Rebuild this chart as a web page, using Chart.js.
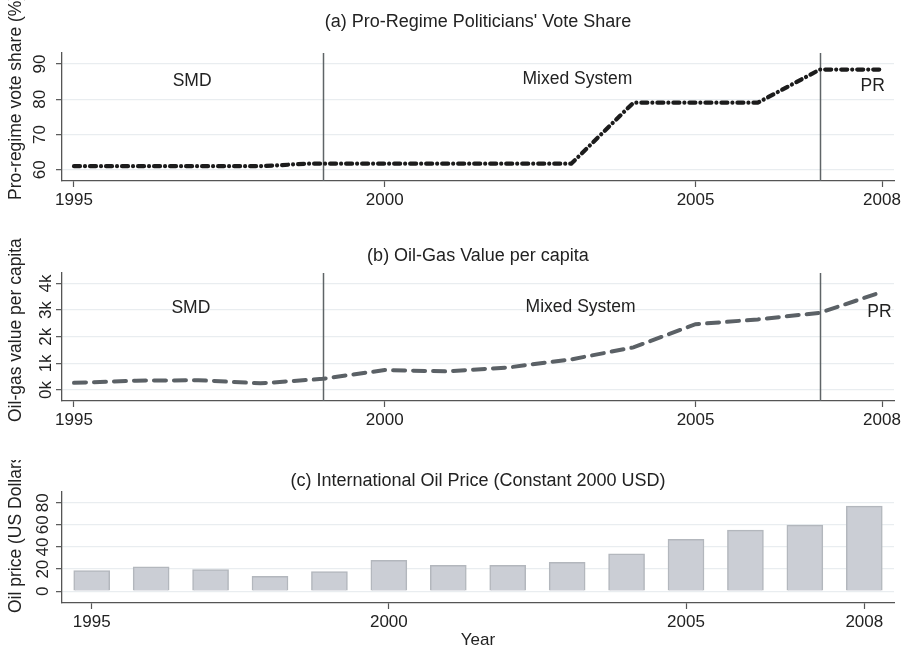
<!DOCTYPE html>
<html lang="en">
<head>
<meta charset="UTF-8">
<title>Vote share, oil-gas value and oil price</title>
<script src="https://cdn.jsdelivr.net/npm/chart.js"></script>
<style>
  body { margin: 0; background: #fff; width: 908px; height: 652px; position: relative; overflow: hidden; }
  .panel { position: absolute; left: 0; width: 908px; }
  #pa { top: 0; height: 215px; }
  #pb { top: 230px; height: 205px; }
  #pc { top: 460px; height: 192px; }
</style>
</head>
<body>
<div class="panel" id="pa"><canvas id="chartA"></canvas></div>
<div class="panel" id="pb"><canvas id="chartB"></canvas></div>
<div class="panel" id="pc"><canvas id="chartC"></canvas></div>
<script>
// data
const years = [1995, 1996, 1997, 1998, 1999, 2000, 2001, 2002, 2003, 2004, 2005, 2006, 2007, 2008];
const xTicks = [1995, 2000, 2005, 2008];
const systemChanges = [1999, 2007];

const voteYears = [1995, 1998, 1998.75, 2003, 2004, 2006, 2007, 2008];
const voteShare = [61.0, 61.0, 61.7, 61.7, 79.0, 79.0, 88.4, 88.4];
const voteTicks = [60, 70, 80, 90];

const oilGasValue = [270, 350, 370, 250, 420, 750, 700, 850, 1150, 1600, 2470, 2650, 2900, 3680];
const oilGasTicks = [0, 1000, 2000, 3000, 4000];

const oilPrice = [18.8, 22.1, 19.7, 13.4, 17.9, 27.9, 23.4, 23.4, 26.1, 33.9, 47.0, 55.2, 59.7, 77.0];
const oilPriceTicks = [0, 20, 40, 60, 80];

const FONT = '"Liberation Sans", Arial, Helvetica, sans-serif';
Chart.defaults.font.family = FONT;
Chart.defaults.color = '#222';

// titles, y titles, system labels and the two reform lines
const decor = {
  id: 'decor',
  beforeDatasetsDraw(chart, args, o) {
    const { ctx, chartArea: a, scales: { x } } = chart;
    ctx.save();
    ctx.strokeStyle = '#5f6467';
    ctx.lineWidth = 1.5;
    (o.lines || []).forEach(v => {
      const px = Math.round(x.getPixelForValue(v)) + 0.5;
      ctx.beginPath();
      ctx.moveTo(px, a.top);
      ctx.lineTo(px, a.bottom);
      ctx.stroke();
    });
    ctx.restore();
  },
  afterDraw(chart, args, o) {
    const { ctx, chartArea: a, scales: { x, y } } = chart;
    ctx.save();
    ctx.fillStyle = '#222';
    ctx.textBaseline = 'middle';
    ctx.textAlign = 'center';
    ctx.font = '18px ' + FONT;
    ctx.fillText(o.title, (a.left + a.right) / 2, o.titleY);

    ctx.font = '17.5px ' + FONT;
    (o.labels || []).forEach(l => {
      ctx.fillText(l.text, x.getPixelForValue(l.x), y.getPixelForValue(l.y));
    });

    ctx.translate(16, o.yTitleBottom);
    ctx.rotate(-Math.PI / 2);
    ctx.textAlign = 'left';
    ctx.font = '17.5px ' + FONT;
    ctx.fillText(o.yTitle, 0, 0);
    ctx.restore();
  }
};

function xAxis(min, max, height, title) {
  return {
    type: 'linear', min, max,
    offset: false,
    afterBuildTicks: s => { s.ticks = xTicks.map(v => ({ value: v })); },
    afterFit: s => { s.height = height; },
    grid: { offset: false, drawOnChartArea: false, drawTicks: true, tickLength: 6, tickColor: '#555', tickWidth: 1.2 },
    border: { display: true, color: '#555', width: 1.3 },
    ticks: { autoSkip: false, maxRotation: 0, padding: 3, font: { size: 17 }, color: '#222', callback: v => String(v) },
    title: title || { display: false }
  };
}

function yAxis(min, max, tickVals, fmt, pad) {
  return {
    type: 'linear', min, max,
    afterBuildTicks: s => { s.ticks = tickVals.map(v => ({ value: v })); },
    afterFit: s => { s.width = 62; },
    grid: { color: '#e9edf0', lineWidth: 1.3, tickColor: '#555', tickLength: 6, tickWidth: 1.2 },
    border: { display: true, color: '#555', width: 1.3 },
    ticks: { autoSkip: false, minRotation: 90, maxRotation: 90, crossAlign: 'center', padding: pad, font: { size: 17 }, color: '#222', callback: fmt }
  };
}

const common = {
  responsive: true,
  maintainAspectRatio: false,
  animation: false,
  events: []
};

new Chart(document.getElementById('chartA'), {
  type: 'line',
  data: {
    datasets: [{
      data: voteYears.map((v, i) => ({ x: v, y: voteShare[i] })),
      borderColor: '#1c1c1c',
      borderWidth: 4.2,
      borderDash: [6, 5, 0.01, 5],
      borderCapStyle: 'round',
      pointRadius: 0,
      tension: 0
    }]
  },
  options: Object.assign({}, common, {
    layout: { padding: { top: 53, right: 14, left: 0, bottom: 0 } },
    scales: {
      x: xAxis(1994.807, 2008.193, 34),
      y: yAxis(56.8, 93.1, voteTicks, v => String(v), 6.5)
    },
    plugins: {
      legend: { display: false },
      tooltip: { enabled: false },
      decor: {
        title: "(a) Pro-Regime Politicians' Vote Share",
        titleY: 22,
        yTitle: 'Pro-regime vote share (%)',
        yTitleBottom: 200,
        lines: systemChanges,
        labels: [
          { text: 'SMD', x: 1996.9, y: 85.1 },
          { text: 'Mixed System', x: 2003.1, y: 85.8 },
          { text: 'PR', x: 2007.85, y: 83.6 }
        ]
      }
    }
  }),
  plugins: [decor]
});

new Chart(document.getElementById('chartB'), {
  type: 'line',
  data: {
    datasets: [{
      data: years.map((v, i) => ({ x: v, y: oilGasValue[i] })),
      borderColor: '#5b6166',
      borderWidth: 4,
      borderDash: [12, 8],
      borderCapStyle: 'round',
      pointRadius: 0,
      tension: 0
    }]
  },
  options: Object.assign({}, common, {
    layout: { padding: { top: 43, right: 14, left: 0, bottom: 0 } },
    scales: {
      x: xAxis(1994.807, 2008.193, 34),
      y: yAxis(-412, 4393, oilGasTicks, v => (v / 1000) + 'k', 1)
    },
    plugins: {
      legend: { display: false },
      tooltip: { enabled: false },
      decor: {
        title: '(b) Oil-Gas Value per capita',
        titleY: 26,
        yTitle: 'Oil-gas value per capita',
        yTitleBottom: 192,
        lines: systemChanges,
        labels: [
          { text: 'SMD', x: 1996.88, y: 3060 },
          { text: 'Mixed System', x: 2003.15, y: 3120 },
          { text: 'PR', x: 2007.96, y: 2930 }
        ]
      }
    }
  }),
  plugins: [decor]
});

new Chart(document.getElementById('chartC'), {
  type: 'bar',
  data: {
    datasets: [{
      data: years.map((v, i) => ({ x: v, y: oilPrice[i] })),
      backgroundColor: '#cbced5',
      borderColor: '#b3b7bd',
      borderWidth: 1.5,
      barThickness: 36
    }]
  },
  options: Object.assign({}, common, {
    layout: { padding: { top: 32, right: 14, left: 0, bottom: 0 } },
    scales: {
      x: xAxis(1994.5, 2008.5, 49, { display: true, text: 'Year', font: { size: 17 }, color: '#222', padding: { top: 0, bottom: 1 } }),
      y: yAxis(-10.6, 89.7, oilPriceTicks, v => String(v), 3)
    },
    plugins: {
      legend: { display: false },
      tooltip: { enabled: false },
      decor: {
        title: '(c) International Oil Price (Constant 2000 USD)',
        titleY: 21,
        yTitle: 'Oil price (US Dollars)',
        yTitleBottom: 153
      }
    }
  }),
  plugins: [decor]
});
</script>
</body>
</html>
